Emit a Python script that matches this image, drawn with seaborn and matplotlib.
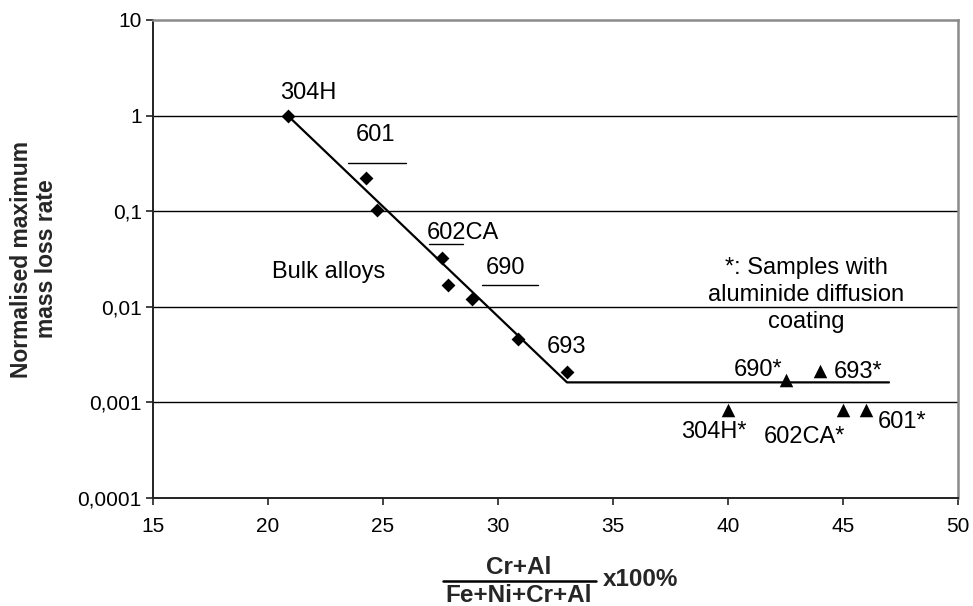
import numpy as np
import pandas as pd
import seaborn as sns
import matplotlib.pyplot as plt
from matplotlib import font_manager
from matplotlib.ticker import FixedLocator, FixedFormatter, NullLocator

# Bulk alloys
bulk_names = ["304H", "601", "601", "602CA", "602CA", "690", "690", "693"]
bulk_x = [20.86, 24.25, 24.73, 27.55, 27.81, 28.85, 30.85, 32.98]
bulk_y = [1.0, 0.224, 0.104, 0.0327, 0.0171, 0.0122, 0.00465, 0.0021]

# Samples with aluminide diffusion coating
coat_names = ["304H*", "690*", "693*", "602CA*", "601*"]
coat_x = [40.0, 42.5, 44.0, 45.0, 46.0]
coat_y = [0.00084, 0.00173, 0.00215, 0.00084, 0.00084]

# Trend line: linear decrease on log scale, then a plateau
trend_x = [20.86, 33.0, 47.0]
trend_y = [1.0, 0.00162, 0.00162]

y_ticks = [1e-4, 1e-3, 1e-2, 1e-1, 1, 10]
y_tick_labels = ["0,0001", "0,001", "0,01", "0,1", "1", "10"]
x_ticks = [15, 20, 25, 30, 35, 40, 45, 50]

sns.set_theme(style="white")
available = {f.name for f in font_manager.fontManager.ttflist}
base_font = "Liberation Sans" if "Liberation Sans" in available else "DejaVu Sans"
plt.rcParams["font.family"] = [base_font, "DejaVu Sans"]

fig = plt.figure(figsize=(9.73, 6.06), dpi=100)
ax = fig.add_axes([0.1572, 0.1782, 0.8274, 0.7888])
ax.set_yscale("log")

bulk = pd.DataFrame({"x": bulk_x, "y": bulk_y, "alloy": bulk_names})
coat = pd.DataFrame({"x": coat_x, "y": coat_y, "alloy": coat_names})
trend = pd.DataFrame({"x": trend_x, "y": trend_y})

sns.lineplot(data=trend, x="x", y="y", ax=ax, color="black", linewidth=1.6,
             sort=False, estimator=None, zorder=3)
sns.scatterplot(data=bulk, x="x", y="y", ax=ax, marker="D", s=50,
                color="black", edgecolor="black", linewidth=0, zorder=4)
sns.scatterplot(data=coat, x="x", y="y", ax=ax, marker="^", s=95,
                color="black", edgecolor="black", linewidth=0, zorder=4)

ax.set_xlim(15, 50)
ax.set_ylim(1e-4, 10)
ax.xaxis.set_major_locator(FixedLocator(x_ticks))
ax.yaxis.set_major_locator(FixedLocator(y_ticks))
ax.yaxis.set_major_formatter(FixedFormatter(y_tick_labels))
ax.yaxis.set_minor_locator(NullLocator())
ax.xaxis.set_minor_locator(NullLocator())

for yv in y_ticks[1:-1]:
    ax.axhline(yv, color="black", linewidth=1.0, zorder=1)

for side in ("left", "bottom"):
    ax.spines[side].set_color("#222222")
    ax.spines[side].set_linewidth(1.4)
for side in ("top", "right"):
    ax.spines[side].set_color("#8a8a8a")
    ax.spines[side].set_linewidth(1.8)

ax.tick_params(axis="both", which="major", direction="out", length=5,
               width=1.2, color="#222222", labelsize=15, labelcolor="black",
               left=True, bottom=True, pad=3)
ax.tick_params(axis="x", pad=9)
ax.set_xlabel("")
ax.set_ylabel("Normalised maximum\nmass loss rate", fontsize=16.5,
              fontweight="bold", labelpad=14, linespacing=1.1)

# Point labels
label_kw = dict(ha="center", va="center", fontsize=17, color="black", zorder=5)
ax.text(21.77, 1.74, "304H", **label_kw)
ax.text(24.68, 0.632, "601", **label_kw)
ax.text(28.46, 0.0597, "602CA", **label_kw)
ax.text(30.33, 0.0257, "690", **label_kw)
ax.text(32.98, 0.00384, "693", **label_kw)
ax.text(22.64, 0.0233, "Bulk alloys", **label_kw)
ax.text(41.31, 0.0022, "690*", **label_kw)
ax.text(45.66, 0.0021, "693*", **label_kw)
ax.text(39.40, 0.000495, "304H*", **label_kw)
ax.text(43.31, 0.000439, "602CA*", **label_kw)
ax.text(47.57, 0.00063, "601*", **label_kw)
ax.text(43.40, 0.0134, "*: Samples with\naluminide diffusion\ncoating",
        linespacing=1.3, **label_kw)

# Short leader bars under the group labels
for x0, x1, yv in [(23.47, 25.99, 0.323), (26.98, 28.46, 0.0458),
                   (29.29, 31.72, 0.0171)]:
    ax.plot([x0, x1], [yv, yv], color="black", linewidth=1.0, zorder=2)

# X-axis label written as a fraction
frac_kw = dict(ha="center", va="center", fontsize=17.5, fontweight="bold")
fig.text(519 / 973, 1 - 567 / 606, "Cr+Al", **frac_kw)
fig.text(519 / 973, 1 - 595 / 606, "Fe+Ni+Cr+Al", **frac_kw)
fig.add_artist(plt.Line2D([443 / 973, 596 / 973], [1 - 581 / 606, 1 - 581 / 606],
                          color="black", linewidth=1.8))
fig.text(641 / 973, 1 - 579 / 606, "x100%", **frac_kw)

fig.savefig("out.png", dpi=100)
